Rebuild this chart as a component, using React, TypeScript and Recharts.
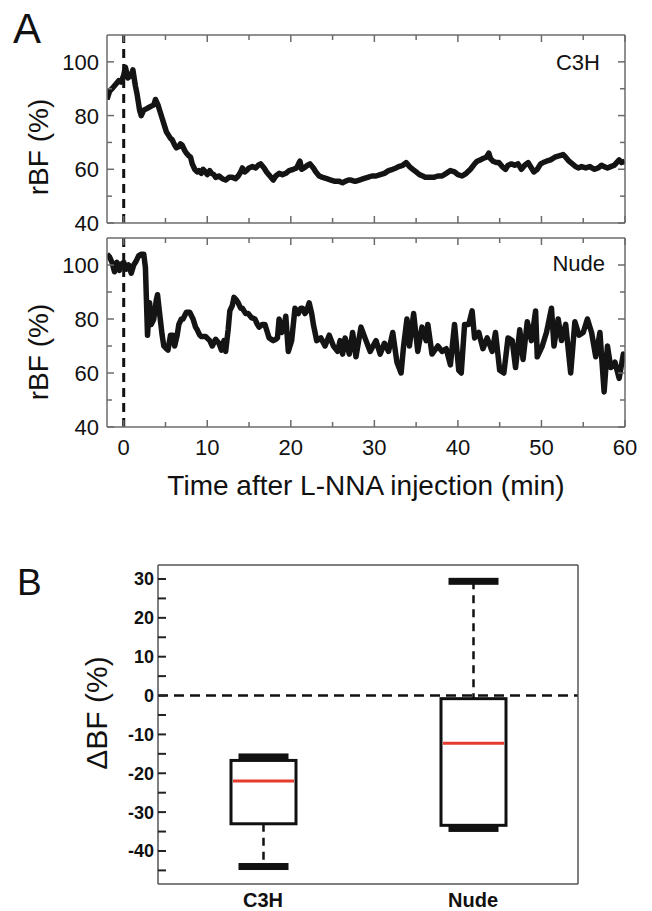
import { LineChart, Line, XAxis, YAxis, ReferenceLine, BarChart, Bar } from 'recharts'

// C3H trace (min, % of baseline)
const c3hTime = [
  -2.0, -1.7, -1.4, -1.0, -0.6, -0.3, 0.0, 0.2, 0.5, 0.9, 1.1, 1.4, 1.6, 1.9, 2.1, 2.4, 2.7, 3.0, 3.3, 3.6,
  3.8, 4.1, 4.3, 4.6, 4.8, 5.1, 5.3, 5.6, 5.8, 6.1, 6.3, 6.6, 6.8, 7.0, 7.3, 7.5, 7.8, 8.0, 8.2, 8.5,
  8.8, 9.0, 9.3, 9.5, 9.8, 10.0, 10.3, 10.5, 10.8, 11.0, 11.4, 11.8, 12.2, 12.6, 13.0, 13.4, 13.7, 14.0, 14.2, 14.5,
  14.7, 15.0, 15.4, 15.8, 16.1, 16.4, 16.8, 17.1, 17.5, 17.9, 18.2, 18.6, 19.0, 19.4, 19.8, 20.3, 20.7, 21.0, 21.1, 21.3,
  21.6, 22.0, 22.3, 22.7, 23.0, 23.4, 23.8, 24.3, 24.8, 25.3, 25.8, 26.2, 26.5, 26.9, 27.2, 27.7, 28.2, 28.7, 29.2, 29.7,
  30.2, 30.7, 31.2, 31.7, 32.2, 32.6, 32.9, 33.4, 33.8, 34.2, 34.6, 35.0, 35.4, 35.8, 36.1, 36.6, 37.1, 37.6, 38.1, 38.6,
  39.1, 39.6, 40.0, 40.5, 41.0, 41.5, 42.0, 42.3, 42.7, 43.0, 43.4, 43.7, 43.9, 44.2, 44.6, 44.9, 45.3, 45.7, 46.0, 46.4,
  46.8, 47.2, 47.6, 48.0, 48.4, 48.8, 49.1, 49.5, 49.9, 50.2, 50.6, 51.1, 51.6, 52.1, 52.6, 52.9, 53.3, 53.7, 54.1, 54.4,
  54.8, 55.3, 55.8, 56.3, 56.8, 57.2, 57.5, 57.9, 58.3, 58.7, 59.0, 59.3, 59.6, 60.0,
]
const c3hValue = [
  86, 89, 90, 91.5, 93, 92.5, 95, 98, 94, 95, 97, 91, 88, 82, 80, 82, 82.5, 83, 83.5, 84,
  86, 84, 82, 79, 77, 74, 73, 71.5, 71, 69, 68, 68.5, 69.5, 69, 67, 66, 65, 64.5, 62, 60,
  59, 59.5, 58.5, 60, 59, 58, 59.5, 58.5, 58, 57, 57.5, 56.5, 56, 57, 57, 56.5, 57.5, 59, 60.5, 59,
  59.5, 60.5, 61, 60.5, 61.5, 62, 60.5, 59, 57.5, 56, 57.5, 58.5, 58, 58.5, 59.5, 60, 60.5, 62.5, 63, 60,
  60.5, 61.5, 62, 60.5, 59, 57.5, 57, 56.5, 56, 55.5, 55.5, 55, 55.5, 56, 56, 55.5, 56, 56.5, 57, 57.5,
  57.5, 58, 58.5, 59.5, 60, 60.5, 61, 61.5, 62.5, 61, 60, 59, 58, 57.5, 57, 57, 57, 57.5, 57.5, 58.5,
  59.5, 59, 58, 57.5, 58.5, 60, 62, 63, 63.5, 64, 64.5, 66, 64, 63, 62.5, 62.5, 61, 60, 61.5, 62,
  61.5, 62, 60, 61.5, 62.5, 60.5, 59, 60, 62, 62.5, 63, 63.5, 64.5, 65, 65.5, 64.5, 63, 62, 61, 60.5,
  61, 60.5, 61, 60, 60.5, 61.5, 61, 60.5, 61, 61.5, 62.5, 63.5, 62.5, 63,
]

// Nude trace
const nudeTime = [
  -2.0, -1.7, -1.4, -1.1, -0.8, -0.5, -0.2, 0.0, 0.3, 0.6, 0.9, 1.2, 1.5, 1.8, 2.1, 2.4, 2.6, 2.85, 3.1, 3.3,
  3.6, 3.9, 4.05, 4.3, 4.6, 4.8, 5.1, 5.3, 5.6, 5.9, 6.1, 6.4, 6.6, 6.9, 7.1, 7.5, 7.9, 8.3, 8.6, 8.8,
  9.1, 9.3, 9.8, 10.3, 10.6, 11.0, 11.4, 11.7, 12.0, 12.2, 12.5, 12.7, 13.0, 13.2, 13.5, 13.7, 14.0, 14.2, 14.6, 14.9,
  15.3, 15.7, 16.0, 16.2, 16.6, 16.9, 17.2, 17.4, 17.9, 18.2, 18.4, 18.6, 18.9, 19.1, 19.4, 19.7, 20.1, 20.5, 20.9, 21.2,
  21.4, 21.7, 21.9, 22.2, 22.5, 22.7, 23.1, 23.6, 24.1, 24.6, 25.1, 25.6, 25.9, 26.2, 26.5, 27.0, 27.4, 27.8, 28.4, 29.0,
  29.5, 30.2, 30.7, 31.2, 31.7, 32.2, 32.7, 33.2, 33.5, 33.9, 34.2, 34.7, 35.2, 35.7, 36.2, 36.4, 36.9, 37.6, 38.1, 38.6,
  39.1, 39.6, 40.1, 40.4, 40.8, 41.3, 41.7, 42.0, 42.5, 43.0, 43.5, 44.1, 44.5, 45.0, 45.5, 46.0, 46.5, 46.9, 47.4, 47.8,
  48.3, 48.8, 49.3, 49.5, 50.1, 50.6, 51.2, 51.5, 52.0, 52.4, 52.9, 53.5, 54.0, 54.5, 55.0, 55.5, 56.0, 56.5, 57.0, 57.5,
  57.9, 58.3, 58.8, 59.3, 59.8, 60.0,
]
const nudeValue = [
  104, 103, 101, 97.5, 101, 98, 100.5, 101, 98.5, 100, 97, 100, 101.5, 103.5, 104, 104, 99, 74, 86, 78,
  80, 87, 89, 82, 74, 70, 69, 68.5, 74, 74, 70, 74, 78, 80, 80, 82.5, 82.5, 80, 77, 76,
  74, 73.5, 73.5, 72, 70, 72.5, 71, 68.5, 72, 68, 76, 83, 85, 88, 87, 86, 84, 84, 82, 82,
  80.5, 80, 78, 77, 78, 78, 75, 73, 72, 72.5, 73, 80, 75, 76, 81, 68, 72, 84, 82, 84,
  84, 82, 83, 86, 82, 78, 72, 73, 70, 74, 70, 68, 72, 67, 73, 67, 75, 66, 77, 72,
  68, 72, 67, 71, 68, 75, 64, 60, 70, 80, 70, 82, 68, 77, 72, 78, 67, 70, 68, 69,
  63, 78, 61, 60, 78, 78, 83, 73, 75, 69, 73, 68, 75, 61, 60, 73, 72, 62, 76, 65,
  79, 72, 83, 66, 70, 75, 84, 70, 80, 72, 78, 60, 79, 74, 75, 80, 75, 66, 75, 53,
  70, 62, 64, 58, 67, 66,
]

const timeTicks = [0, 5, 10, 15, 20, 25, 30, 35, 40, 45, 50, 55, 60]
const rbfTicks = [40, 50, 60, 70, 80, 90, 100]

// panel B box plot
const groups = ['C3H', 'Nude']
const boxMin = [-44, -34.2]
const boxQ1 = [-33, -33.4]
const boxMedian = [-22, -12.3]
const boxQ3 = [-16.7, -0.8]
const boxMax = [-15.8, 29.4]
const dbfTicks = [-45, -40, -35, -30, -25, -20, -15, -10, -5, 0, 5, 10, 15, 20, 25, 30]

const c3hData = c3hTime.map((t, i) => ({ t, v: c3hValue[i] }))
const nudeData = nudeTime.map((t, i) => ({ t, v: nudeValue[i] }))
const boxData = groups.map((g, i) => ({
  group: g,
  range: [boxMin[i], boxMax[i]],
  min: boxMin[i],
  q1: boxQ1[i],
  median: boxMedian[i],
  q3: boxQ3[i],
  max: boxMax[i],
}))

const FONT = '"Liberation Sans", Arial, Helvetica, sans-serif'
const FRAME = '#6b6b6b'

const BottomTick = ({ x, y, payload, labels }: any) => {
  const major = payload.value % 10 === 0
  return (
    <g>
      <line x1={x} x2={x} y1={y} y2={y - (major ? 7 : 5)} stroke={FRAME} strokeWidth={1.5} />
      {labels && major && (
        <text x={x} y={y + 28} textAnchor="middle" fontSize={22} fill="#111" fontFamily={FONT}>
          {payload.value}
        </text>
      )}
    </g>
  )
}

const TopTick = ({ x, y, payload }: any) => {
  const major = payload.value % 10 === 0
  return <line x1={x} x2={x} y1={y} y2={y + (major ? 7 : 5)} stroke={FRAME} strokeWidth={1.5} />
}

const LeftTick = ({ x, y, payload }: any) => {
  const major = payload.value % 20 === 0
  return (
    <g>
      <line x1={x} x2={x + (major ? 7 : 5)} y1={y} y2={y} stroke={FRAME} strokeWidth={1.5} />
      {major && (
        <text x={x - 8} y={y + 8} textAnchor="end" fontSize={22} fill="#111" fontFamily={FONT}>
          {payload.value}
        </text>
      )}
    </g>
  )
}

const RightTick = ({ x, y, payload }: any) => {
  const major = payload.value % 20 === 0
  return <line x1={x} x2={x - (major ? 7 : 5)} y1={y} y2={y} stroke={FRAME} strokeWidth={1.5} />
}

const BoxLeftTick = ({ x, y, payload }: any) => {
  const major = payload.value % 10 === 0
  return (
    <g>
      <line x1={x + 4} x2={x + 12} y1={y} y2={y} stroke="#222" strokeWidth={2} />
      {major && (
        <text x={x} y={y + 6.5} textAnchor="end" fontSize={18} fontWeight="bold" fill="#111" fontFamily={FONT}>
          {payload.value}
        </text>
      )}
    </g>
  )
}

const GroupTick = ({ x, y, payload }: any) => (
  <text x={x} y={y + 23} textAnchor="middle" fontSize={20} fontWeight="bold" fill="#111" fontFamily={FONT}>
    {payload.value}
  </text>
)

const BoxShape = (props: any) => {
  const { x, y, width, height, payload } = props
  const top = Math.min(y, y + height)
  const bottom = Math.max(y, y + height)
  const py = (v: number) => top + ((payload.max - v) / (payload.max - payload.min)) * (bottom - top)
  const cx = x + width / 2
  const capW = 50
  return (
    <g>
      <line x1={cx} x2={cx} y1={py(payload.max)} y2={py(payload.q3)} stroke="#111" strokeWidth={2.5} strokeDasharray="8 6" />
      <line x1={cx} x2={cx} y1={py(payload.q1)} y2={py(payload.min)} stroke="#111" strokeWidth={2.5} strokeDasharray="8 6" />
      <rect x={x} y={py(payload.q3)} width={width} height={py(payload.q1) - py(payload.q3)} fill="none" stroke="#111" strokeWidth={3} />
      <line x1={x + 2} x2={x + width - 2} y1={py(payload.median)} y2={py(payload.median)} stroke="#e63a2c" strokeWidth={3} />
      <rect x={cx - capW / 2} y={py(payload.max) - 3.5} width={capW} height={7} fill="#111" />
      <rect x={cx - capW / 2} y={py(payload.min) - 3.5} width={capW} height={7} fill="#111" />
    </g>
  )
}

const TracePanel = ({ data, top, height, margin, labels }: any) => (
  <div style={{ position: 'absolute', left: 0, top }}>
    <LineChart width={652} height={height} data={data} margin={margin}>
      <XAxis xAxisId="b" dataKey="t" type="number" domain={[-2, 60]} ticks={timeTicks} interval={0}
        height={30} tickSize={0} tickMargin={0} stroke={FRAME} strokeWidth={1.5}
        tick={<BottomTick labels={labels} />} allowDataOverflow />
      <XAxis xAxisId="t" orientation="top" dataKey="t" type="number" domain={[-2, 60]} ticks={timeTicks} interval={0}
        height={1} tickSize={0} tickMargin={0} stroke={FRAME} strokeWidth={1.5} tick={<TopTick />} allowDataOverflow />
      <YAxis yAxisId="l" type="number" domain={[40, 110]} ticks={rbfTicks} interval={0}
        width={50} tickSize={0} tickMargin={0} stroke={FRAME} strokeWidth={1.5} tick={<LeftTick />} allowDataOverflow />
      <YAxis yAxisId="r" orientation="right" type="number" domain={[40, 110]} ticks={rbfTicks} interval={0}
        width={1} tickSize={0} tickMargin={0} stroke={FRAME} strokeWidth={1.5} tick={<RightTick />} allowDataOverflow />
      <ReferenceLine x={0} xAxisId="b" yAxisId="l" stroke="#111" strokeWidth={3} strokeDasharray="9 6" />
      <Line xAxisId="b" yAxisId="l" type="linear" dataKey="v" stroke="#141414" strokeWidth={5.5}
        strokeLinejoin="round" dot={false} isAnimationActive={false} />
    </LineChart>
  </div>
)

export default function App() {
  return (
    <div style={{ position: 'absolute', left: 0, top: 0, width: 652, height: 911, background: '#fff', overflow: 'hidden' }}>
      <TracePanel data={c3hData} top={0} height={260} margin={{ top: 34, right: 26, bottom: 7, left: 57 }} labels={false} />
      <TracePanel data={nudeData} top={230} height={280} margin={{ top: 7, right: 26, bottom: 53, left: 57 }} labels />

      <div style={{ position: 'absolute', left: 0, top: 540 }}>
        <BarChart width={652} height={371} data={boxData} margin={{ top: 24, right: 73, bottom: 7, left: 108 }}>
          <XAxis xAxisId="b" dataKey="group" height={20} tickSize={0} tickMargin={0} stroke="#555" strokeWidth={1.5}
            tick={<GroupTick />} interval={0} />
          <XAxis xAxisId="t" orientation="top" dataKey="group" height={1} stroke="#555" strokeWidth={1.5} tick={false} tickLine={false} />
          <YAxis yAxisId="l" type="number" domain={[-48.5, 33.6]} ticks={dbfTicks} interval={0} width={50}
            tickSize={0} tickMargin={4} stroke="#555" strokeWidth={1.5} tick={<BoxLeftTick />} allowDataOverflow />
          <YAxis yAxisId="r" orientation="right" type="number" domain={[-48.5, 33.6]} width={1}
            stroke="#555" strokeWidth={1.5} tick={false} tickLine={false} allowDataOverflow />
          <ReferenceLine y={0} xAxisId="b" yAxisId="l" stroke="#111" strokeWidth={2.5} strokeDasharray="10 6" />
          <Bar xAxisId="b" yAxisId="l" dataKey="range" barSize={65} shape={<BoxShape />} isAnimationActive={false} />
        </BarChart>
      </div>

      <svg width={652} height={911} style={{ position: 'absolute', left: 0, top: 0, pointerEvents: 'none' }} fontFamily={FONT}>
        <text x={13} y={43} fontSize={42} fill="#111">A</text>
        <text x={17} y={595} fontSize={37} fill="#111">B</text>
        <text transform="translate(48,147) rotate(-90)" textAnchor="middle" fontSize={28} fill="#111">rBF (%)</text>
        <text transform="translate(48,352) rotate(-90)" textAnchor="middle" fontSize={28} fill="#111">rBF (%)</text>
        <text x={366} y={495} textAnchor="middle" fontSize={28} fill="#111">Time after L-NNA injection (min)</text>
        <text x={600} y={70} textAnchor="end" fontSize={22} fill="#111">C3H</text>
        <text x={605} y={271} textAnchor="end" fontSize={22} fill="#111">Nude</text>
        <text transform="translate(107,713) rotate(-90)" textAnchor="middle" fontSize={30} fill="#111">ΔBF (%)</text>
      </svg>
    </div>
  )
}
